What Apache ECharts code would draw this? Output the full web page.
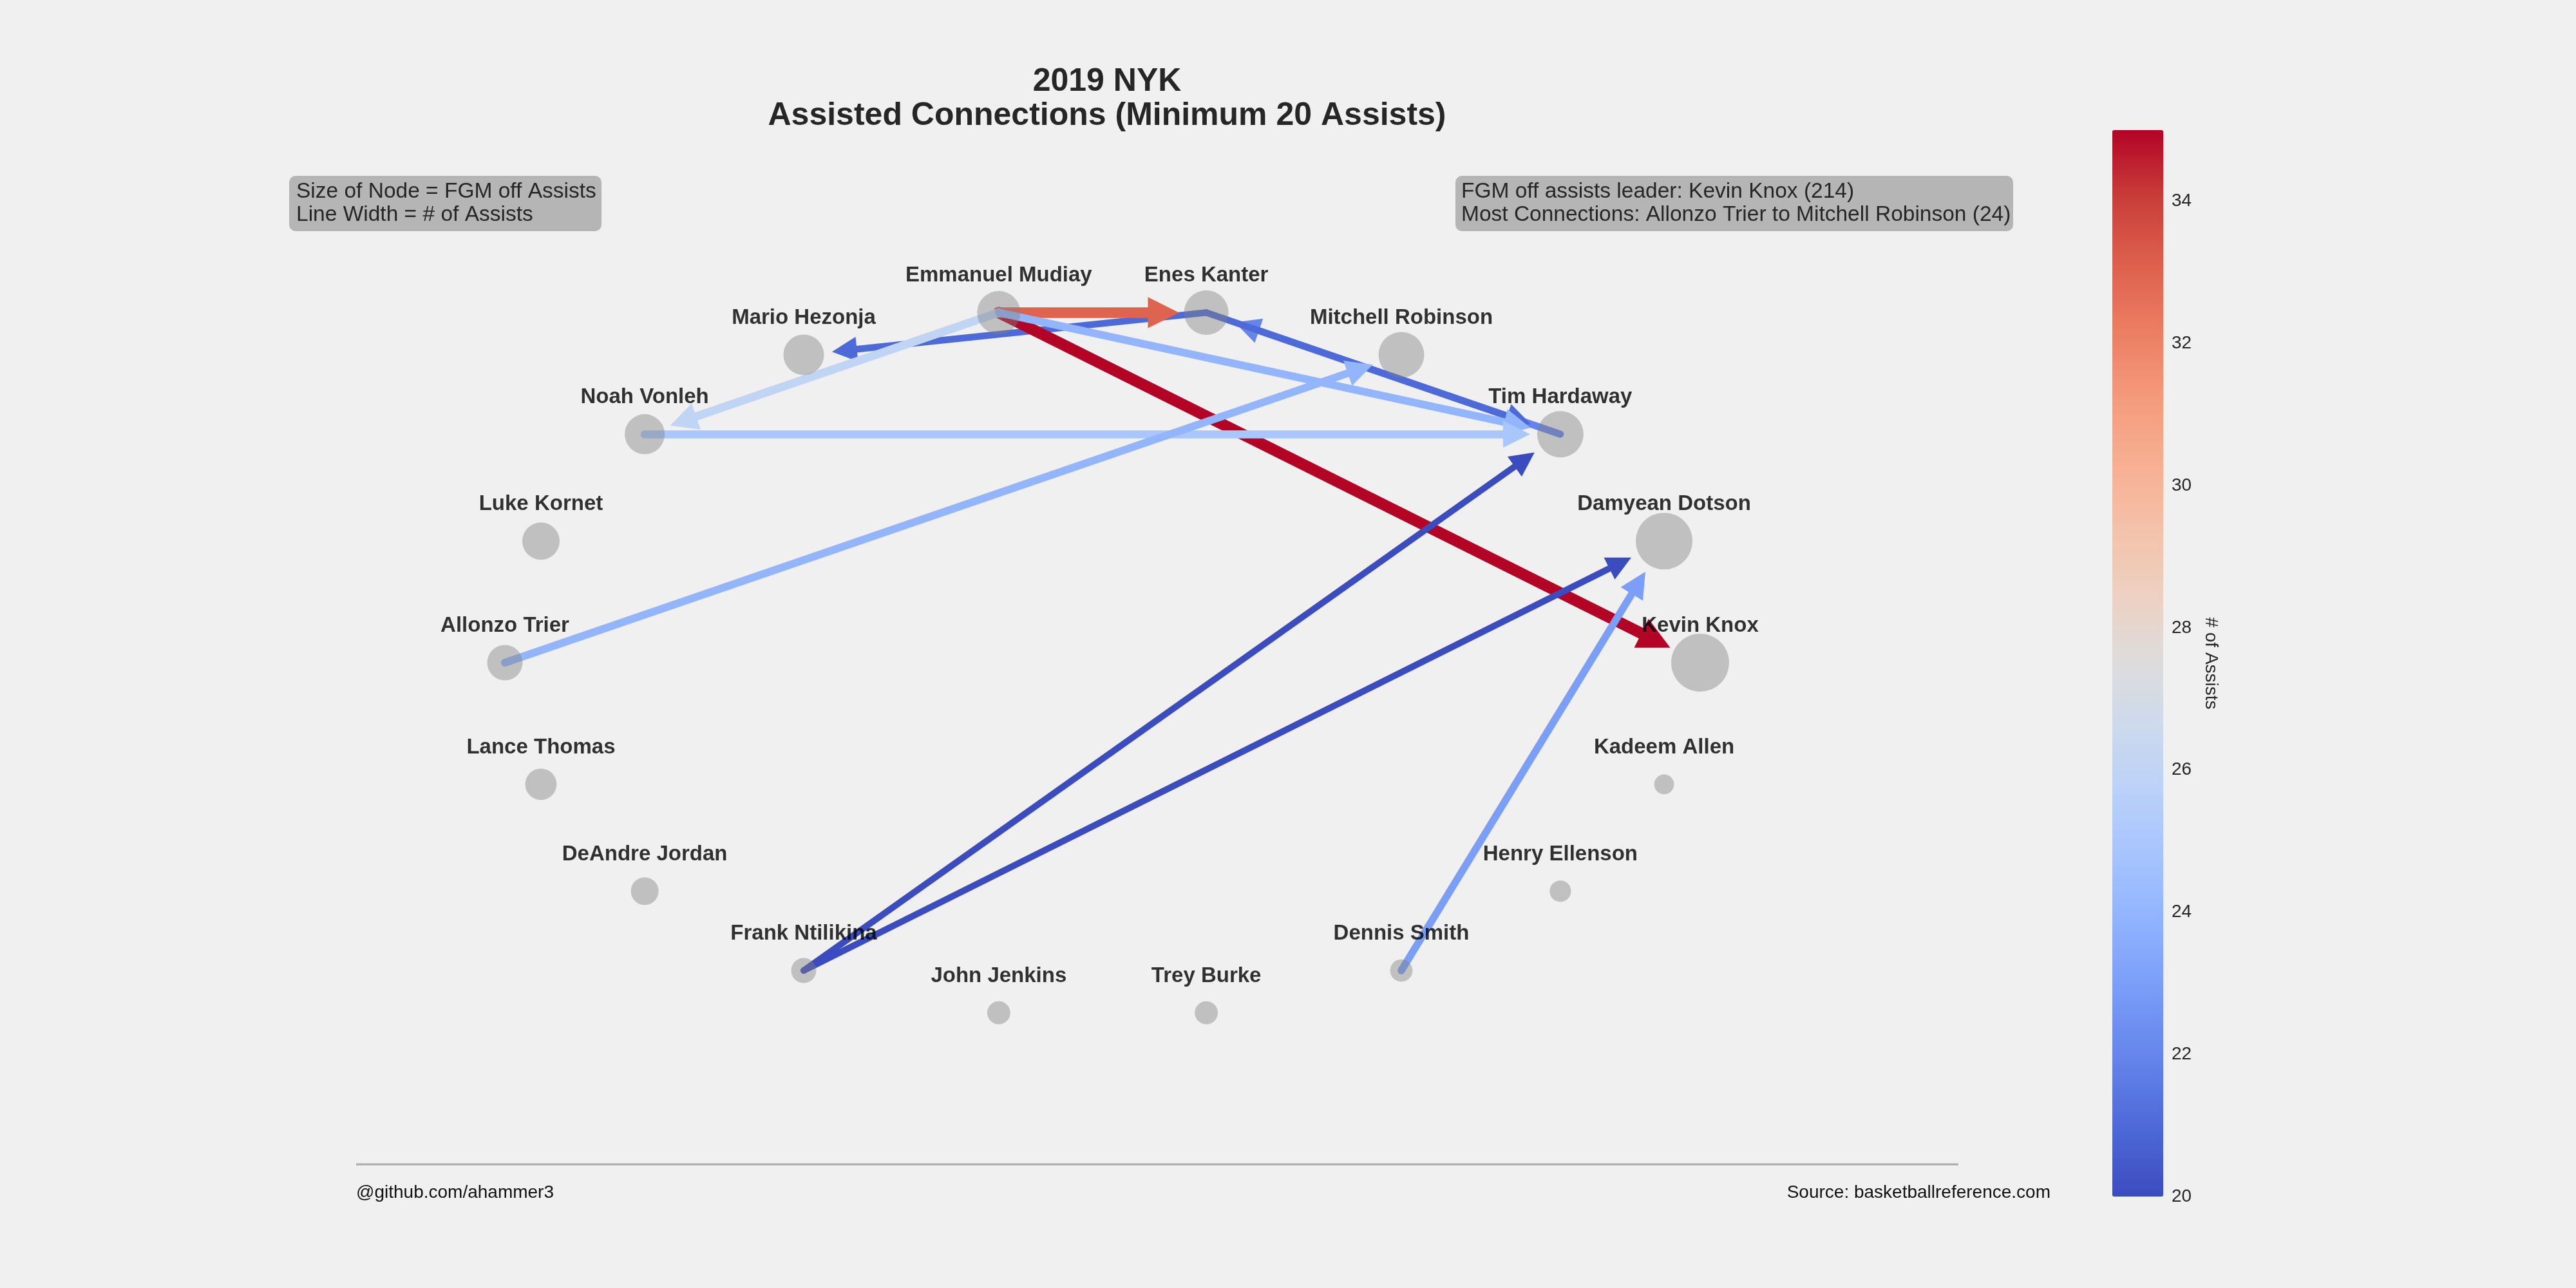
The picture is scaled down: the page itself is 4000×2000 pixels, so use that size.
<!DOCTYPE html>
<html>
<head>
<meta charset="utf-8">
<title>2019 NYK Assisted Connections</title>
<script src="https://cdn.jsdelivr.net/npm/echarts@6/dist/echarts.min.js"></script>
<style>
  html, body { margin: 0; padding: 0; background: #f0f0f0; }
  #main { width: 4000px; height: 2000px; }
</style>
</head>
<body>
<div id="main"></div>
<script>
// players in circular layout order (index 0 at the right, going counter-clockwise)
var players = ['Kevin Knox', 'Damyean Dotson', 'Tim Hardaway', 'Mitchell Robinson', 'Enes Kanter',
  'Emmanuel Mudiay', 'Mario Hezonja', 'Noah Vonleh', 'Luke Kornet', 'Allonzo Trier', 'Lance Thomas',
  'DeAndre Jordan', 'Frank Ntilikina', 'John Jenkins', 'Trey Burke', 'Dennis Smith', 'Henry Ellenson',
  'Kadeem Allen'];
// FGM off assists -> node size
var fgmOffAssists = [214, 205, 137, 133, 126, 119, 105, 102, 89, 80, 63, 49, 40, 34, 34, 32, 29, 25];

// connections (min 20 assists), in drawing order
var passers = ['Tim Hardaway', 'Enes Kanter', 'Enes Kanter', 'Emmanuel Mudiay', 'Emmanuel Mudiay',
  'Emmanuel Mudiay', 'Emmanuel Mudiay', 'Noah Vonleh', 'Allonzo Trier', 'Frank Ntilikina',
  'Frank Ntilikina', 'Dennis Smith'];
var scorers = ['Enes Kanter', 'Mario Hezonja', 'Tim Hardaway', 'Kevin Knox', 'Enes Kanter',
  'Noah Vonleh', 'Tim Hardaway', 'Tim Hardaway', 'Mitchell Robinson', 'Tim Hardaway',
  'Damyean Dotson', 'Damyean Dotson'];
var assists = [22, 21, 21, 35, 33, 26, 24, 25, 24, 20, 20, 23];

// colorbar
var cbarMin = 20, cbarMax = 35, cbarStep = 2;
var coolwarm = ['#3b4cc0', '#4d68d7', '#6282ea', '#779af7', '#8db0fe', '#a3c2fe', '#b8d0f9', '#ccd9ed',
  '#dddcdc', '#edd1c2', '#f4c2aa', '#f7af91', '#f49a7b', '#eb7d62', '#dd604d', '#c93d39', '#b40426'];

var FONT = 'Liberation Sans, Arial, sans-serif';
var n = players.length;

function angle(i) { return 2 * Math.PI * i / n; }
function nodeDiameter(v) { return 90 * Math.sqrt(v / 214); }
function assistColor(v) {
  return echarts.color.lerp((v - cbarMin) / (cbarMax - cbarMin), coolwarm);
}

var chart = echarts.init(document.getElementById('main'));

// visible nodes (scatter on top of the edges)
var nodeDots = players.map(function (name, i) {
  return {
    name: name,
    value: [Math.cos(angle(i)), Math.sin(angle(i))],
    symbolSize: nodeDiameter(fgmOffAssists[i])
  };
});

// invisible graph nodes, a bit larger so arrow tips stop just outside the dots
var graphNodes = players.map(function (name, i) {
  return {
    name: name,
    value: [Math.cos(angle(i)), Math.sin(angle(i))],
    symbolSize: nodeDiameter(fgmOffAssists[i]) + 64,
    itemStyle: { opacity: 0 }
  };
});

var links = passers.map(function (p, i) {
  var v = assists[i];
  var head = 22 + 0.8 * v;
  return {
    source: p,
    target: scorers[i],
    value: v,
    symbolSize: [1, [head, head]],
    lineStyle: { color: assistColor(v), width: v * 0.5, opacity: 1, curveness: 0, cap: 'round' }
  };
});

function txt(text, x, y, size, opts) {
  opts = opts || {};
  return {
    type: 'text', x: x, y: y, rotation: opts.rotation || 0, silent: true, z: 10,
    style: {
      text: text,
      font: (opts.bold ? 'bold ' : '') + size + 'px ' + FONT,
      fill: opts.color || '#262626',
      align: opts.align || 'left', textAlign: opts.align || 'left',
      verticalAlign: 'middle', textVerticalAlign: 'middle'
    }
  };
}

chart.setOption({
  backgroundColor: '#f0f0f0',
  animation: false,
  grid: [
    { left: 784, top: 477, width: 1856, height: 1104 },
    { left: 3280, top: 202, width: 79, height: 1656 }
  ],
  xAxis: [
    { gridIndex: 0, type: 'value', min: -1, max: 1, show: false },
    { gridIndex: 1, type: 'value', min: 0, max: 1, show: false }
  ],
  yAxis: [
    { gridIndex: 0, type: 'value', min: -1, max: 1, show: false },
    {
      gridIndex: 1, type: 'value', position: 'right',
      min: cbarMin, max: cbarMax, interval: cbarStep,
      axisLine: { show: false },
      axisTick: { show: false },
      splitLine: { show: false },
      axisLabel: {
        margin: 13, fontSize: 28, color: '#262626', fontFamily: FONT, showMaxLabel: false
      }
    }
  ],
  visualMap: {
    type: 'continuous',
    min: cbarMin, max: cbarMax,
    seriesIndex: 2,
    orient: 'vertical',
    left: 3280, top: 202,
    itemWidth: 79, itemHeight: 1656,
    padding: 0,
    calculable: false,
    hoverLink: false,
    text: null,
    inRange: { color: coolwarm }
  },
  series: [
    {
      type: 'graph',
      layout: 'none',
      coordinateSystem: 'cartesian2d',
      xAxisIndex: 0, yAxisIndex: 0,
      silent: true,
      z: 2,
      edgeSymbol: ['none', 'triangle'],
      label: { show: false },
      data: graphNodes,
      links: links
    },
    {
      type: 'scatter',
      xAxisIndex: 0, yAxisIndex: 0,
      silent: true,
      clip: false,
      z: 3,
      itemStyle: { color: 'rgba(128,128,128,0.53)' },
      label: {
        show: true,
        position: 'inside',
        offset: [0, -57],
        formatter: '{b}',
        color: '#000',
        fontSize: 33,
        fontWeight: 'bold',
        fontFamily: FONT
      },
      data: nodeDots
    },
    {
      type: 'scatter',
      xAxisIndex: 1, yAxisIndex: 1,
      data: []
    }
  ],
  graphic: [
    txt('2019 NYK', 1719, 127, 50, { bold: true, align: 'center' }),
    txt('Assisted Connections (Minimum 20 Assists)', 1719, 180, 50, { bold: true, align: 'center' }),
    {
      type: 'rect', silent: true, z: 9,
      shape: { x: 449, y: 273, width: 485, height: 86, r: 10 },
      style: { fill: '#b5b5b5' }
    },
    txt('Size of Node = FGM off Assists', 460, 298, 33.5),
    txt('Line Width = # of Assists', 460, 334, 33.5),
    {
      type: 'rect', silent: true, z: 9,
      shape: { x: 2260, y: 273, width: 866, height: 86, r: 10 },
      style: { fill: '#b5b5b5' }
    },
    txt('FGM off assists leader: Kevin Knox (214)', 2269, 298, 33.5),
    txt('Most Connections: Allonzo Trier to Mitchell Robinson (24)', 2269, 334, 33.5),
    txt('# of Assists', 3433, 1030, 28, { align: 'center', rotation: -Math.PI / 2 }),
    {
      type: 'line', silent: true, z: 9,
      shape: { x1: 553, y1: 1808, x2: 3041, y2: 1808 },
      style: { stroke: '#aaaaaa', lineWidth: 3 }
    },
    txt('@github.com/ahammer3', 553, 1852, 28, { color: '#111' }),
    txt('Source: basketballreference.com', 3184, 1852, 28, { color: '#111', align: 'right' })
  ]
});
</script>
</body>
</html>
